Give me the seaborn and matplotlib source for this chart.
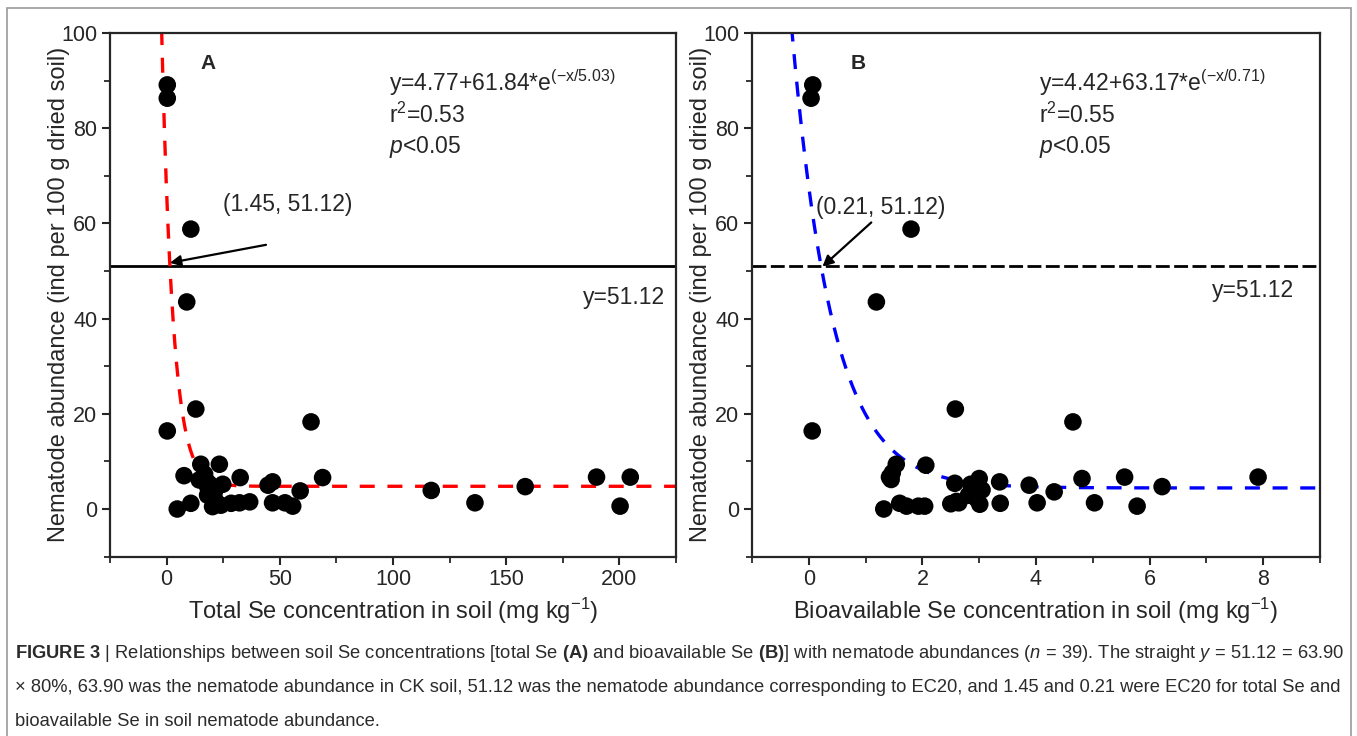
import numpy as np
import matplotlib
matplotlib.use("Agg")
import matplotlib.pyplot as plt
import seaborn as sns

# ---------------- data ----------------
# panel A: total Se (mg/kg) vs nematode abundance
total_se = [0.3, 0.3, 10.7, 8.9, 0.3, 12.9, 63.8,
            15.1, 23.3, 7.7, 14.4, 18.6, 32.5, 44.8, 46.8, 59.0, 18.1,
            21.1, 4.7, 10.7, 20.3, 24.0, 28.5, 32.2, 36.7, 46.8, 52.3,
            55.7, 68.9, 24.8, 18.1, 21.5, 16.8,
            116.9, 136.2, 158.4, 189.9, 204.8, 200.3]
abund_a = [89.1, 86.3, 58.8, 43.5, 16.4, 21.0, 18.3,
           9.4, 9.4, 7.0, 6.1, 5.4, 6.6, 5.0, 5.7, 3.8, 2.9,
           3.6, 0.0, 1.2, 0.5, 0.8, 1.2, 1.3, 1.5, 1.3, 1.3,
           0.6, 6.6, 5.2, 4.7, 1.8, 7.3,
           3.9, 1.3, 4.7, 6.7, 6.7, 0.6]

# panel B: bioavailable Se (mg/kg) vs nematode abundance
bio_se = [0.07, 0.04, 1.80, 1.19, 0.06, 2.58, 4.65,
          1.54, 2.06, 1.42, 1.47, 1.32, 1.60, 1.72, 1.93, 2.04, 2.57,
          2.50, 2.64, 3.00, 2.81, 3.05, 3.01, 3.36, 3.37, 3.88, 4.02,
          4.32, 4.81, 5.56, 5.03, 5.78, 6.22, 7.91,
          2.90, 2.95, 2.85, 1.45, 2.60]
abund_b = [89.1, 86.3, 58.8, 43.5, 16.4, 21.0, 18.3,
           9.4, 9.2, 6.7, 7.6, 0.0, 1.2, 0.6, 0.6, 0.6, 5.4,
           1.1, 1.3, 6.4, 2.9, 4.0, 1.0, 5.7, 1.2, 5.0, 1.3,
           3.6, 6.4, 6.7, 1.3, 0.6, 4.7, 6.7,
           3.6, 2.2, 5.2, 6.2, 1.6]

# fitted models y = y0 + a*exp(-x/t)
fit_a = [4.77, 61.84, 5.03]
fit_b = [4.42, 63.17, 0.71]
ec20_y = 51.12
ec20_x = [1.45, 0.21]

# ---------------- style ----------------
sns.set_style("ticks")
plt.rcParams["font.family"] = ["Liberation Sans", "DejaVu Sans"]
plt.rcParams["mathtext.fontset"] = "custom"
plt.rcParams["mathtext.rm"] = "Liberation Sans"
plt.rcParams["mathtext.it"] = "Liberation Sans:italic"
plt.rcParams["mathtext.bf"] = "Liberation Sans:bold"

W, H = 1357, 736
fig = plt.figure(figsize=(W / 100, H / 100), dpi=100)

ax_bottom = 1 - 556.6 / H
ax_height = (556.6 - 33) / H
axA = fig.add_axes([110 / W, ax_bottom, 566 / W, ax_height])
axB = fig.add_axes([752 / W, ax_bottom, 568 / W, ax_height])


def setup_axis(ax, xlim, xmajor, xlabel):
    ax.set_xlim(*xlim)
    ax.set_ylim(-10, 100)
    ax.set_xticks(xmajor)
    step = xmajor[1] - xmajor[0]
    ax.set_xticks(np.arange(xmajor[0] - step / 2, xlim[1] + 1e-9, step / 2), minor=True)
    ax.set_yticks([0, 20, 40, 60, 80, 100])
    ax.set_yticks([-10, 10, 30, 50, 70, 90], minor=True)
    for s in ax.spines.values():
        s.set_linewidth(1.6)
        s.set_visible(True)
    ax.tick_params(which="major", direction="out", length=6, width=1.5,
                   labelsize=15.5, top=False, right=False, pad=3)
    ax.tick_params(which="minor", direction="out", length=4, width=1.3,
                   top=False, right=False)
    ax.set_xlabel(xlabel, fontsize=17, labelpad=4)
    ax.set_ylabel("Nematode abundance (ind per 100 g dried soil)", fontsize=17, labelpad=-6)


# ---------------- panel A ----------------
xa = np.linspace(-2.5, 226, 1200)
ya = fit_a[0] + fit_a[1] * np.exp(-xa / fit_a[2])
axA.plot(xa, ya, color="red", lw=2.4, dashes=(4.5, 3.8), zorder=2)
axA.axhline(ec20_y, color="black", lw=2, zorder=1)
sns.scatterplot(x=total_se, y=abund_a, color="black", s=160, edgecolor="none",
                ax=axA, zorder=3, legend=False)
setup_axis(axA, (-25, 225), [0, 50, 100, 150, 200],
           r"Total Se concentration in soil (mg kg$^{-1}$)")

axA.text(15, 93.5, "A", fontsize=15, fontweight="bold", va="center")
axA.text(98.4, 89.5, r"y=4.77+61.84*e$^{\mathrm{(-x/5.03)}}$", fontsize=16.5, va="center")
axA.text(98.4, 82.8, r"r$^{2}$=0.53", fontsize=16.5, va="center")
axA.text(98.4, 76.1, r"$p$<0.05", fontsize=16.5, va="center")
axA.text(25, 63.9, "(%.2f, %.2f)" % (ec20_x[0], ec20_y), fontsize=16.5, va="center")
axA.annotate("", xy=(ec20_x[0], ec20_y + 0.6), xytext=(43.9, 55.5),
             arrowprops=dict(arrowstyle="-|>", color="black", lw=1.6,
                             mutation_scale=16, shrinkA=0, shrinkB=0))
axA.text(220, 44.5, "y=51.12", fontsize=16.5, va="center", ha="right")

# ---------------- panel B ----------------
xb = np.linspace(-0.4, 9.2, 1200)
yb = fit_b[0] + fit_b[1] * np.exp(-xb / fit_b[2])
axB.plot(xb, yb, color="blue", lw=2.4, dashes=(4.5, 3.8), zorder=2)
axB.axhline(ec20_y, color="black", lw=2, dashes=(5, 1.6), zorder=1)
sns.scatterplot(x=bio_se, y=abund_b, color="black", s=160, edgecolor="none",
                ax=axB, zorder=3, legend=False)
setup_axis(axB, (-1, 9), [0, 2, 4, 6, 8],
           r"Bioavailable Se concentration in soil (mg kg$^{-1}$)")

axB.text(0.73, 93.5, "B", fontsize=15, fontweight="bold", va="center")
axB.text(4.06, 89.5, r"y=4.42+63.17*e$^{\mathrm{(-x/0.71)}}$", fontsize=16.5, va="center")
axB.text(4.06, 82.8, r"r$^{2}$=0.55", fontsize=16.5, va="center")
axB.text(4.06, 76.1, r"$p$<0.05", fontsize=16.5, va="center")
axB.text(0.12, 63.4, "(%.2f, %.2f)" % (ec20_x[1], ec20_y), fontsize=16.5, va="center")
axB.annotate("", xy=(ec20_x[1] + 0.03, ec20_y - 0.2), xytext=(1.1, 60.2),
             arrowprops=dict(arrowstyle="-|>", color="black", lw=1.6,
                             mutation_scale=16, shrinkA=0, shrinkB=0))
axB.text(8.55, 46, "y=51.12", fontsize=16.5, va="center", ha="right")

# ---------------- frame and caption ----------------
frame = plt.Rectangle((7 / W, -0.01), (1351 - 7) / W, 1 - 8 / H + 0.01,
                      transform=fig.transFigure, fill=False,
                      edgecolor="#9a9a9a", lw=1.2)
fig.add_artist(frame)

cap_color = "#2b2b2b"
caption = [
    r"$\mathbf{FIGURE\ 3}$ | Relationships between soil Se concentrations [total Se $\mathbf{(A)}$ "
    r"and bioavailable Se $\mathbf{(B)}$] with nematode abundances ($n$ = 39). The straight $y$ = 51.12 = 63.90",
    "× 80%, 63.90 was the nematode abundance in CK soil, 51.12 was the nematode abundance "
    "corresponding to EC20, and 1.45 and 0.21 were EC20 for total Se and",
    "bioavailable Se in soil nematode abundance.",
]
for i, line in enumerate(caption):
    fig.text(15 / W, 1 - (653 + 34 * i) / H, line, fontsize=13.2,
             color=cap_color, va="center", ha="left")

fig.savefig("out.png", dpi=100)
